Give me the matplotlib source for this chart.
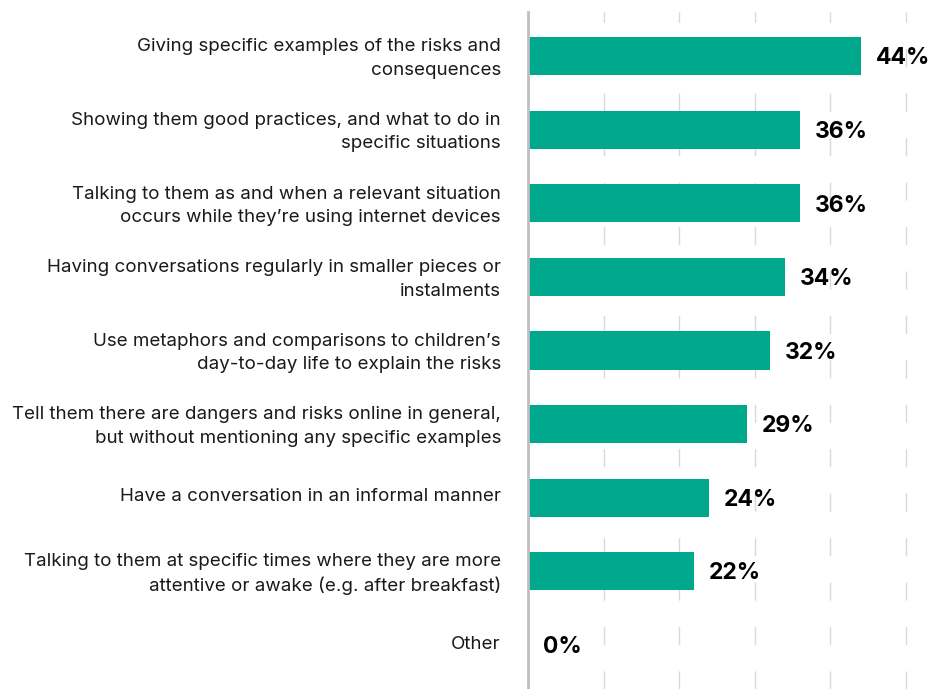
import matplotlib
matplotlib.use("Agg")
import matplotlib.pyplot as plt
import matplotlib.transforms as mtransforms

categories = [
    "Giving specific examples of the risks and\nconsequences",
    "Showing them good practices, and what to do in\nspecific situations",
    "Talking to them as and when a relevant situation\noccurs while they\u2019re using internet devices",
    "Having conversations regularly in smaller pieces or\ninstalments",
    "Use metaphors and comparisons to children\u2019s\nday-to-day life to explain the risks",
    "Tell them there are dangers and risks online in general,\nbut without mentioning any specific examples",
    "Have a conversation in an informal manner",
    "Talking to them at specific times where they are more\nattentive or awake (e.g. after breakfast)",
    "Other",
]
values = [44, 36, 36, 34, 32, 29, 24, 22, 0]
value_labels = ["44%", "36%", "36%", "34%", "32%", "29%", "24%", "22%", "0%"]
grid_ticks = [10, 20, 30, 40, 50]

bar_color = "#00A88E"
font = ["Inter", "DejaVu Sans"]

fig = plt.figure(figsize=(9.31, 6.89), dpi=100)
ax = fig.add_axes([528 / 931, 0.0, 1 - 528 / 931, 1 - 12 / 689])

ypos = list(range(len(categories)))
ax.barh(ypos, values, height=0.52, color=bar_color, zorder=2)

ax.set_xlim(0, 53.3)
ax.set_ylim(len(categories) - 0.4, -0.6)

for x in grid_ticks:
    ax.axvline(x, color="#D9D9D9", linewidth=1.0, linestyle=(0, (13, 19)), zorder=1)

for y, v, lab in zip(ypos, values, value_labels):
    ax.text(v + 1.95, y + 0.03, lab, va="center", ha="left", fontsize=16.5,
            fontweight="bold", family=font, color="#000000")

ax.set_yticks(ypos)
ax.set_yticklabels(categories, family=font, fontsize=13.5, color="#1a1a1a",
                   linespacing=1.5)
ax.tick_params(axis="y", length=0, pad=19.5)
ax.set_xticks([])

# nudge the category labels up slightly so each block sits centred on its bar
shift = mtransforms.ScaledTranslation(0, 2 / 72, fig.dpi_scale_trans)
for t in ax.get_yticklabels():
    t.set_transform(t.get_transform() + shift)

for side in ("top", "right", "bottom"):
    ax.spines[side].set_visible(False)
ax.spines["left"].set_color("#BFBFBF")
ax.spines["left"].set_linewidth(2)

fig.savefig("out.png", dpi=100)
